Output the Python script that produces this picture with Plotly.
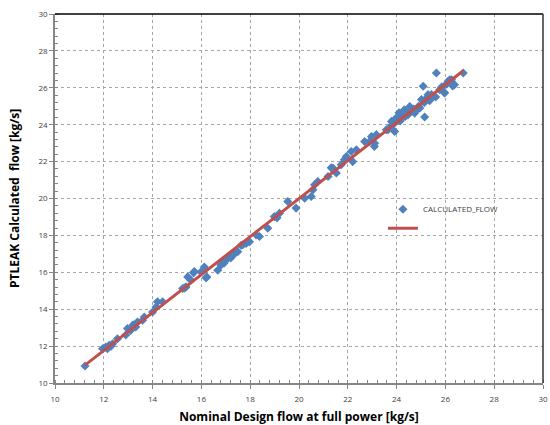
import numpy as np
import plotly.graph_objects as go

# Nominal design flow at full power [kg/s]
nominal_flow = [
    11.23, 11.95, 12.08, 12.15, 12.22, 12.36, 12.56, 12.90, 12.97, 13.10,
    13.31, 13.38, 13.59, 13.66, 14.00, 14.14, 14.20, 14.41, 15.23, 15.30,
    15.37, 15.44, 15.57, 15.68, 15.71, 15.98, 16.12, 16.19, 16.22, 16.67,
    16.80, 16.93, 17.08, 17.20, 17.35, 17.49, 17.63, 17.70, 17.83, 17.97,
    18.24, 18.38, 18.72, 18.99, 19.20, 19.54, 19.88, 20.23, 20.50, 20.64,
    20.77, 20.57, 21.19, 21.32, 21.39, 21.53, 21.73, 21.86, 21.94, 22.14,
    22.20, 22.35, 22.69, 22.89, 22.97, 23.09, 23.17, 23.10, 23.58, 23.65,
    23.79, 23.92, 23.99, 24.10, 24.27, 24.32, 24.47, 24.54, 24.74, 24.81,
    25.02, 25.09, 25.14, 25.15, 25.29, 25.43, 25.63, 25.77, 25.96, 25.97,
    26.11, 26.18, 26.25, 26.37, 26.73, 23.85, 24.05, 24.20, 24.40, 24.60,
    24.90, 25.20, 25.50, 25.85, 26.05, 12.30, 13.20, 16.88, 17.28, 19.10,
    23.75, 23.95, 24.15, 24.35, 24.55, 24.70, 24.95, 25.35, 25.60, 26.30,
]
# PTLEAK calculated flow [kg/s]
calculated_flow = [
    10.92, 11.86, 11.95, 11.86, 12.05, 12.13, 12.40, 12.60, 12.95, 12.85,
    13.04, 13.31, 13.40, 13.58, 13.85, 14.12, 14.40, 14.40, 15.12, 15.14,
    15.21, 15.75, 15.57, 15.97, 16.04, 16.02, 16.29, 15.70, 15.75, 16.11,
    16.39, 16.50, 16.75, 16.78, 17.02, 17.12, 17.47, 17.49, 17.56, 17.65,
    18.03, 17.94, 18.39, 19.02, 19.20, 19.84, 19.48, 20.02, 20.11, 20.74,
    20.92, 20.47, 21.19, 21.66, 21.65, 21.38, 21.83, 22.10, 22.28, 22.55,
    22.00, 22.64, 23.09, 23.09, 23.36, 22.82, 23.46, 23.00, 23.73, 23.73,
    24.18, 23.63, 24.36, 24.65, 24.63, 24.81, 24.54, 24.99, 24.63, 24.81,
    25.36, 26.08, 25.20, 24.42, 25.63, 25.63, 26.80, 25.90, 25.74, 25.72,
    26.35, 26.44, 26.44, 26.17, 26.80, 24.00, 24.25, 24.40, 24.50, 24.80,
    25.00, 25.40, 25.55, 26.05, 26.20, 12.00, 13.15, 16.60, 16.90, 18.95,
    23.90, 24.30, 24.20, 24.45, 24.70, 24.85, 24.90, 25.30, 25.50, 26.10,
]

x_ticks = [10, 12, 14, 16, 18, 20, 22, 24, 26, 28, 30]
y_ticks = [10, 12, 14, 16, 18, 20, 22, 24, 26, 28, 30]

slope, intercept = np.polyfit(nominal_flow, calculated_flow, 1)
trend_x = [min(nominal_flow), max(nominal_flow)]
trend_y = [slope * v + intercept for v in trend_x]

fig = go.Figure()
fig.add_trace(go.Scatter(
    x=nominal_flow, y=calculated_flow, mode="markers", name="CALCULATED_FLOW",
    marker=dict(symbol="diamond", size=7, color="#4F81BD"),
))
fig.add_trace(go.Scatter(
    x=trend_x, y=trend_y, mode="lines", name="",
    line=dict(color="#C0504D", width=3),
))

axis_common = dict(
    showgrid=True, gridcolor="#a6a6a6", griddash="dot", gridwidth=1,
    showline=True, linecolor="#868686", linewidth=1.5,
    ticks="outside", ticklen=4, tickcolor="#868686",
    tickfont=dict(family="Open Sans", size=8, color="#404040"),
    zeroline=False, automargin=False,
    minor=dict(dtick=0.4, ticks="inside", ticklen=3, tickcolor="#868686", showgrid=False),
)

fig.update_xaxes(
    range=[10, 30], tickvals=x_ticks, **axis_common, ticklabelstandoff=4,
    title=dict(text="<b>Nominal Design flow at full power [kg/s]</b>",
               font=dict(family="Open Sans", size=12, color="#000000"), standoff=12),
)
fig.update_yaxes(
    range=[10, 30], tickvals=y_ticks, **axis_common,
    title=dict(text="<b>PTLEAK Calculated  flow [kg/s]</b>",
               font=dict(family="Open Sans", size=12, color="#000000"), standoff=16),
)

fig.add_shape(type="line", xref="paper", yref="paper", x0=0, x1=1, y0=1, y1=1,
              line=dict(color="#000000", width=1.5))
fig.add_shape(type="line", xref="paper", yref="paper", x0=1, x1=1, y0=0, y1=1,
              line=dict(color="#333333", width=1.5))

fig.update_layout(
    width=550, height=425,
    margin=dict(l=55, r=7, t=14, b=42),
    paper_bgcolor="white", plot_bgcolor="white",
    showlegend=True,
    legend=dict(x=0.672, y=0.51, xanchor="left", yanchor="top",
                bgcolor="rgba(0,0,0,0)", borderwidth=0,
                font=dict(family="Open Sans", size=8, color="#404040"),
                tracegroupgap=0, itemwidth=30),
)

fig.write_html("out.html", config={"displayModeBar": False},
               post_script="document.body.style.margin='0';")
